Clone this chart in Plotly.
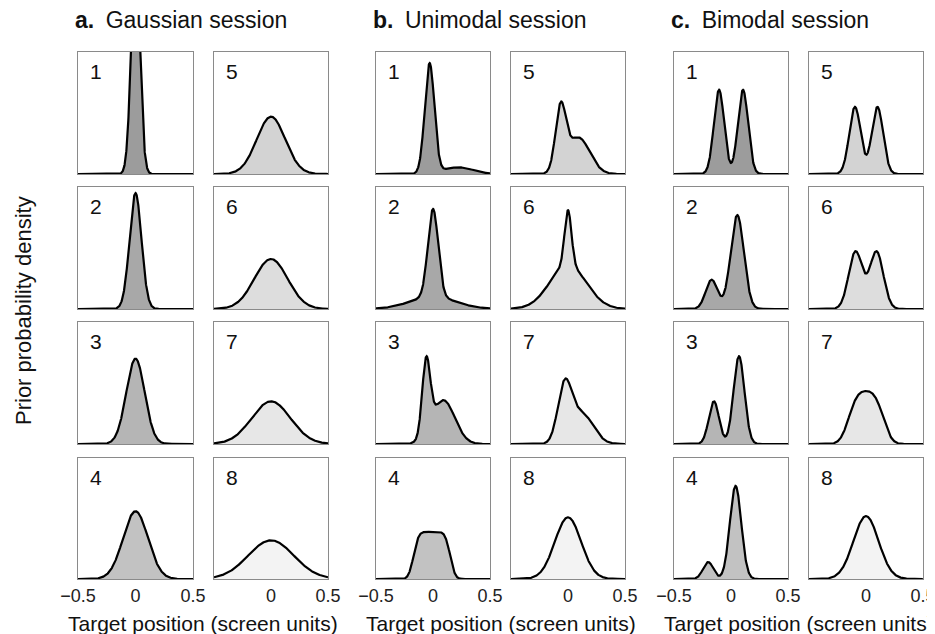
import math
import numpy as np
import plotly.graph_objects as go

W, H = 935, 634
OX, OY = 7, 7  # page offset compensation
sessions = ["a", "b", "c"]
session_titles = ["Gaussian session", "Unimodal session", "Bimodal session"]
session_numbers = [1, 2, 3, 4, 5, 6, 7, 8]
fill_colors = ["#9c9c9c", "#a8a8a8", "#b5b5b5", "#c2c2c2", "#d3d3d3", "#dddddd", "#e7e7e7", "#f3f3f3"]
x_ticks = [-0.5, 0, 0.5]
x_tick_labels = ["\u22120.5", "0", "0.5"]

# Gaussian components per panel: (amplitude as fraction of panel height, mean, sd)
gauss_a = {
    1: [(1.7, 0.0, 0.038)],
    2: [(0.95, 0.0, 0.052)],
    3: [(0.70, 0.0, 0.08)],
    4: [(0.56, 0.0, 0.108)],
    5: [(0.47, 0.0, 0.125)],
    6: [(0.41, 0.0, 0.146)],
    7: [(0.35, 0.0, 0.17)],
    8: [(0.32, 0.0, 0.2)],
}
gauss_b = {
    1: [(0.90, -0.03, 0.042), (0.055, 0.22, 0.13)],
    2: [(0.72, 0.0, 0.045), (0.10, 0.0, 0.2)],
    3: [(0.60, -0.06, 0.035), (0.36, 0.09, 0.1)],
    4: [],
    5: [(0.50, -0.065, 0.045), (0.30, 0.09, 0.1)],
    6: [(0.45, 0.0, 0.03), (0.36, 0.0, 0.16)],
    7: [(0.45, -0.03, 0.06), (0.25, 0.12, 0.1)],
    8: [(0.51, 0.0, 0.115)],
}
gauss_c = {
    1: [(0.69, -0.105, 0.045), (0.69, 0.105, 0.045)],
    2: [(0.24, -0.17, 0.052), (0.77, 0.055, 0.058)],
    3: [(0.35, -0.15, 0.045), (0.72, 0.07, 0.048)],
    4: [(0.14, -0.20, 0.045), (0.77, 0.04, 0.05)],
    5: [(0.55, -0.097, 0.05), (0.55, 0.10, 0.05)],
    6: [(0.47, -0.092, 0.06), (0.47, 0.092, 0.06)],
    7: [],
    8: [(0.52, 0.0, 0.11)],
}
# Flat-top components: (height, center, half-width, edge sd)
flat_b = {4: [(0.39, -0.01, 0.16, 0.035)]}
flat_c = {7: [(0.44, 0.0, 0.15, 0.06)]}

gauss_all = [gauss_a, gauss_b, gauss_c]
flat_all = [{}, flat_b, flat_c]

xs = np.linspace(-0.5, 0.5, 801)
erf = np.vectorize(math.erf)

def density(g, f):
    y = np.zeros_like(xs)
    for a, m, s in g:
        y += a * np.exp(-0.5 * ((xs - m) / s) ** 2)
    for h, c, w, s in f:
        y += h * 0.5 * (erf((xs - c + w) / (s * math.sqrt(2))) - erf((xs - c - w) / (s * math.sqrt(2))))
    return y

col_px = [(77, 192), (213, 327), (375, 489), (510, 624), (673, 787), (808, 922)]
row_px = [(51, 173), (186, 308), (321, 443), (457, 578)]
FONT = "Liberation Sans, Arial, Helvetica, sans-serif"

def px(x):
    return (x - OX) / W

def py(y):
    return 1 - (y - OY) / H

fig = go.Figure()
annotations = []
idx = 0
for si in range(3):
    for half in range(2):
        ci = si * 2 + half
        for ri in range(4):
            num = session_numbers[half * 4 + ri]
            idx += 1
            xa = "x" if idx == 1 else f"x{idx}"
            ya = "y" if idx == 1 else f"y{idx}"
            y = density(gauss_all[si].get(num, []), flat_all[si].get(num, []))
            fig.add_trace(go.Scatter(x=xs, y=y, mode="lines", fill="tozeroy",
                                     fillcolor=fill_colors[num - 1],
                                     line=dict(color="black", width=2.2),
                                     xaxis=xa, yaxis=ya, showlegend=False, hoverinfo="skip"))
            x0, x1 = col_px[ci]
            y0, y1 = row_px[ri]
            if ri == 3:
                tv = x_ticks if half == 0 else x_ticks[1:]
                tt = x_tick_labels if half == 0 else x_tick_labels[1:]
            else:
                tv, tt = [], []
            fig.layout[f"xaxis{'' if idx == 1 else idx}"] = dict(
                domain=[px(x0), px(x1)], range=[-0.5, 0.5], anchor=ya,
                showgrid=False, zeroline=False, showline=True, mirror=True,
                linecolor="#8a8a8a", linewidth=1, ticks="", tickvals=tv, ticktext=tt,
                tickfont=dict(size=18, color="#222", family=FONT), fixedrange=True,
                automargin=False)
            fig.layout[f"yaxis{'' if idx == 1 else idx}"] = dict(
                domain=[py(y1), py(y0)], range=[0, 1.0], anchor=xa,
                showgrid=False, zeroline=False, showline=True, mirror=True,
                linecolor="#8a8a8a", linewidth=1, showticklabels=False, ticks="",
                fixedrange=True, automargin=False)
            annotations.append(dict(x=px(x0 + 10), y=py(y0 + 6), xref="paper", yref="paper",
                                    text=str(num), showarrow=False, xanchor="left", yanchor="top",
                                    font=dict(size=21, color="#111", family=FONT)))
    annotations.append(dict(x=px(col_px[si * 2][0] - 5), y=py(19), xref="paper", yref="paper",
                            text=f"<b>{sessions[si]}.</b>\u2002{session_titles[si]}", showarrow=False,
                            xanchor="left", yanchor="middle",
                            font=dict(size=23, color="#111", family=FONT)))
    xc = (col_px[si * 2][0] + col_px[si * 2 + 1][1]) / 2
    annotations.append(dict(x=px(xc), y=py(622), xref="paper", yref="paper",
                            text="Target position (screen units)", showarrow=False,
                            xanchor="center", yanchor="middle",
                            font=dict(size=21, color="#111", family=FONT)))

annotations.append(dict(x=px(22), y=py(310), xref="paper", yref="paper",
                        text="Prior probability density", showarrow=False, textangle=-90,
                        xanchor="center", yanchor="middle",
                        font=dict(size=22, color="#111", family=FONT)))

fig.update_layout(width=W, height=H, margin=dict(l=0, r=0, t=0, b=0, autoexpand=False),
                  paper_bgcolor="white", plot_bgcolor="white",
                  annotations=annotations, font=dict(family=FONT))
fig.write_html("out.html")
